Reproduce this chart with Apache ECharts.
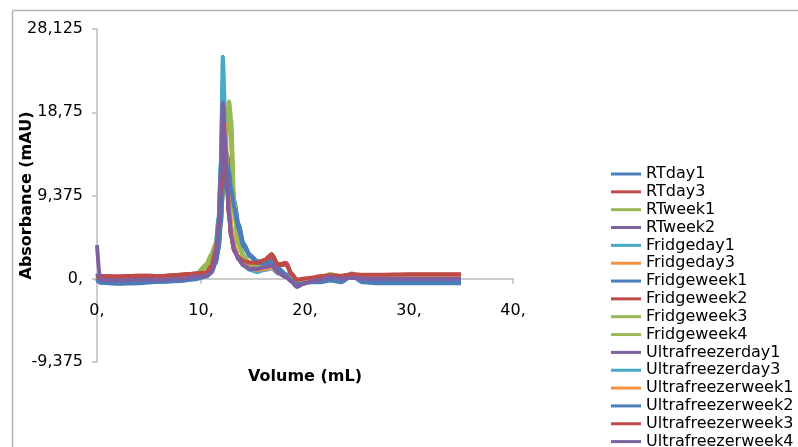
<!DOCTYPE html>
<html>
<head>
<meta charset="utf-8">
<script src="https://cdn.jsdelivr.net/npm/echarts@6/dist/echarts.min.js"></script>
<style>
  html, body { margin: 0; padding: 0; background: #fff; }
  #chart { width: 798px; height: 447px; }
</style>
</head>
<body>
<div id="chart"></div>
<script>
// elution volume (mL), shared by every run
const volume = [0, 0.3, 2, 4, 6, 8, 9.5, 10.5, 11, 11.4, 11.7, 11.9, 12.1, 12.3, 12.5, 12.7, 12.9, 13.2, 13.6, 14.1, 14.7, 15.4, 16.1, 16.8, 17.4, 18.2, 18.7, 19.2, 19.8, 20.6, 21.5, 22.4, 23.5, 24.5, 25.5, 27, 30, 35];

// absorbance (mAU) per run
const rtDay1 = [-0.2, -0.4, -0.5, -0.45, -0.3, -0.2, 0, 0.3, 0.8, 1.8, 3.5, 6.5, 10.5, 12.8, 13.4, 12.6, 10.8, 8.5, 6, 3.8, 2.6, 1.9, 1.8, 2, 1.1, 0.4, 0, -0.5, -0.4, -0.3, -0.3, -0.1, -0.3, 0.5, -0.3, -0.4, -0.4, -0.4];
const rtDay3 = [0.1, 0.3, 0.25, 0.35, 0.3, 0.45, 0.6, 0.7, 1.5, 3.2, 6, 10.5, 16.3, 15.2, 11, 7.5, 5, 3.3, 2.5, 2, 1.8, 1.8, 2.1, 2.8, 1.6, 1.8, 0.6, -0.2, -0.1, 0, 0.2, 0.4, 0.3, 0.5, 0.4, 0.4, 0.45, 0.45];
const rtWeek1 = [0, -0.2, -0.25, -0.15, -0.1, 0.1, 0.5, 1.5, 2.6, 3.8, 5, 6.5, 10, 14.5, 18.5, 19.5, 15.5, 7.5, 4, 2.5, 1.6, 1.3, 1.3, 1.5, 0.8, 0.3, -0.1, -0.5, -0.3, -0.1, 0.1, 0.5, 0.2, 0.3, 0.2, 0.2, 0.2, 0.2];
const rtWeek2 = [0.6, -0.1, -0.2, -0.1, -0.1, 0, 0.2, 0.3, 0.7, 2.2, 6.5, 12, 20.3, 16.5, 11.5, 7.5, 5, 3.3, 2.2, 1.5, 1.1, 1.1, 1.3, 1.5, 0.7, 0.2, -0.3, -0.9, -0.6, -0.3, -0.1, 0.2, 0, 0.1, 0, 0, 0, 0];
const fridgeDay1 = [0, -0.3, -0.35, -0.3, -0.2, -0.1, 0.1, 0.4, 1.2, 3.6, 7, 13, 25, 19, 12, 8, 5.5, 3.6, 2.4, 1.5, 1, 0.8, 1, 1.2, 0.7, 0.3, 0, -0.4, -0.3, -0.1, 0, 0.3, 0.1, 0.2, 0.1, 0.1, 0.1, 0.1];
const fridgeDay3 = [0, -0.2, -0.3, -0.25, -0.15, -0.05, 0.2, 0.4, 1.2, 3, 6, 11, 16.5, 18.2, 13.5, 9, 6, 3.8, 2.4, 1.6, 1.2, 1, 1.1, 1.3, 0.7, 0.3, 0, -0.3, -0.2, 0, 0.1, -0.1, -0.2, 0.3, 0, 0.1, 0.1, 0.1];
const fridgeWeek1 = [0, -0.35, -0.45, -0.4, -0.3, -0.15, 0.05, 0.35, 0.9, 2, 3.8, 7, 11, 13.5, 14, 13, 11, 8.8, 6.2, 4, 2.7, 2, 1.9, 2.1, 1.2, 0.5, 0.1, -0.4, -0.3, -0.2, -0.2, 0, -0.2, 0.6, -0.2, -0.3, -0.3, -0.3];
const fridgeWeek2 = [0, 0.25, 0.2, 0.3, 0.25, 0.4, 0.55, 0.65, 1.4, 3, 5.8, 10, 15.8, 15, 10.5, 7.2, 4.8, 3.2, 2.4, 1.9, 1.7, 1.7, 2, 2.6, 1.5, 1.6, 0.5, -0.2, -0.1, 0, 0.2, 0.35, 0.3, 0.45, 0.35, 0.35, 0.4, 0.4];
const fridgeWeek3 = [0, -0.25, -0.3, -0.2, -0.15, 0.05, 0.4, 1.3, 2.4, 3.5, 4.8, 6.2, 9.5, 14, 18, 19, 15, 7.2, 3.8, 2.4, 1.5, 1.2, 1.2, 1.4, 0.7, 0.2, -0.2, -0.5, -0.3, -0.1, 0.1, 0.4, 0.1, 0.2, 0.1, 0.1, 0.1, 0.1];
const fridgeWeek4 = [0, -0.2, -0.25, -0.15, -0.1, 0.15, 0.5, 1.6, 2.8, 4, 5.2, 6.8, 10, 14, 18, 20, 18, 8.5, 4.2, 2.6, 1.7, 1.3, 1.3, 1.5, 0.8, 0.3, -0.1, -0.4, -0.2, 0, 0.1, 0.5, 0.2, 0.3, 0.2, 0.2, 0.2, 0.2];
const ultraDay1 = [0, -0.15, -0.25, -0.15, -0.1, 0, 0.15, 0.3, 0.7, 2, 5, 9.5, 14, 14.9, 11.5, 7.8, 5.2, 3.4, 2.3, 1.6, 1.2, 1.1, 1.3, 1.5, 0.7, 0.2, -0.3, -0.8, -0.5, -0.3, -0.1, 0.2, 0, 0.1, 0, 0, 0, 0];
const ultraDay3 = [0, -0.25, -0.3, -0.25, -0.2, -0.1, 0.1, 0.4, 1.1, 3.4, 6.8, 12.5, 22, 17.5, 11.5, 7.6, 5.2, 3.4, 2.3, 1.5, 1, 0.8, 1, 1.2, 0.6, 0.3, 0, -0.4, -0.3, -0.1, 0, 0.3, 0.1, 0.2, 0.1, 0.1, 0.1, 0.1];
const ultraWeek1 = [0, -0.15, -0.25, -0.2, -0.1, 0, 0.25, 0.45, 1.2, 2.9, 5.8, 10.5, 16, 17.5, 13, 8.7, 5.8, 3.7, 2.4, 1.6, 1.2, 1, 1.1, 1.3, 0.7, 0.3, 0, -0.3, -0.2, 0, 0.1, -0.1, -0.2, 0.3, 0, 0.1, 0.1, 0.1];
const ultraWeek2 = [0, -0.45, -0.55, -0.5, -0.35, -0.25, -0.05, 0.25, 0.7, 1.7, 3.3, 6, 10, 12.3, 12.8, 12, 10.2, 8, 5.6, 3.6, 2.5, 1.8, 1.7, 1.9, 1, 0.3, -0.1, -0.6, -0.5, -0.4, -0.4, -0.2, -0.4, 0.4, -0.4, -0.5, -0.5, -0.5];
const ultraWeek3 = [0, 0.3, 0.25, 0.35, 0.3, 0.45, 0.6, 0.7, 1.4, 3.1, 5.8, 10, 15.3, 14.5, 10.2, 7, 4.7, 3.1, 2.4, 2, 1.8, 1.8, 2.1, 2.7, 1.6, 1.7, 0.6, -0.1, 0, 0.1, 0.3, 0.4, 0.35, 0.5, 0.45, 0.45, 0.5, 0.5];
const ultraWeek4 = [3.8, -0.1, -0.2, -0.1, -0.1, 0, 0.2, 0.3, 0.7, 2.1, 6.3, 11.8, 19.8, 16, 11.2, 7.3, 4.9, 3.3, 2.2, 1.5, 1.1, 1.1, 1.3, 1.5, 0.7, 0.2, -0.3, -0.9, -0.6, -0.3, -0.1, 0.2, 0, 0.1, 0, 0, 0, 0];

const runNames = ['RTday1', 'RTday3', 'RTweek1', 'RTweek2', 'Fridgeday1', 'Fridgeday3', 'Fridgeweek1', 'Fridgeweek2',
  'Fridgeweek3', 'Fridgeweek4', 'Ultrafreezerday1', 'Ultrafreezerday3', 'Ultrafreezerweek1', 'Ultrafreezerweek2',
  'Ultrafreezerweek3', 'Ultrafreezerweek4'];
const runValues = [rtDay1, rtDay3, rtWeek1, rtWeek2, fridgeDay1, fridgeDay3, fridgeWeek1, fridgeWeek2,
  fridgeWeek3, fridgeWeek4, ultraDay1, ultraDay3, ultraWeek1, ultraWeek2, ultraWeek3, ultraWeek4];

const blue = '#4A7EBB', red = '#BE4B48', green = '#98B954', purple = '#7D60A0', aqua = '#46AAC5', orange = '#F69240';
const runColors = [blue, red, green, purple, aqua, orange, blue, red, green, green, purple, aqua, orange, blue, red, purple];

const font = 'DejaVu Sans, Verdana, sans-serif';
const commaNum = (v) => {
  const s = String(v).replace('.', ',');
  return s.includes(',') ? s : s + ',';
};

// plot box: 333px tall, four y intervals -> zero line sits one interval above the bottom
const plotHeight = 447 - 29 - 85;

const chart = echarts.init(document.getElementById('chart'));
chart.setOption({
  animation: false,
  backgroundColor: '#fff',
  graphic: [
    { type: 'line', shape: { x1: 12.5, y1: 10.5, x2: 12.5, y2: 447 }, style: { stroke: '#B4B4B4', lineWidth: 1.5 } },
    { type: 'line', shape: { x1: 12.5, y1: 10.5, x2: 798, y2: 10.5 }, style: { stroke: '#B4B4B4', lineWidth: 1.5 } }
  ],
  grid: { left: 97, right: 285, top: 29, bottom: 85, outerBoundsMode: 'none' },
  legend: {
    orient: 'vertical',
    left: 611,
    top: 166,
    height: 300,
    padding: 0,
    icon: 'rect',
    itemWidth: 30,
    itemHeight: 3,
    itemGap: 1.84,
    textStyle: { fontFamily: font, fontSize: 16, color: '#000', lineHeight: 15 },
    data: runNames
  },
  xAxis: {
    type: 'value',
    min: 0,
    max: 40,
    interval: 10,
    offset: -plotHeight / 4,
    name: 'Volume (mL)',
    nameLocation: 'middle',
    nameGap: 90,
    nameTextStyle: { fontFamily: font, fontSize: 16, fontWeight: 'bold', color: '#000' },
    axisLine: { onZero: false, lineStyle: { color: '#BDBDBD', width: 1.5 } },
    axisTick: { show: true, length: 5, lineStyle: { color: '#BDBDBD', width: 1.5 } },
    axisLabel: { margin: 24, fontFamily: font, fontSize: 16, color: '#000', formatter: commaNum },
    splitLine: { show: false }
  },
  yAxis: {
    type: 'value',
    min: -9.375,
    max: 28.125,
    interval: 9.375,
    name: 'Absorbance (mAU)',
    nameLocation: 'middle',
    nameGap: 62,
    nameMoveOverlap: false,
    nameTextStyle: { fontFamily: font, fontSize: 16, fontWeight: 'bold', color: '#000' },
    axisLine: { show: true, lineStyle: { color: '#BDBDBD', width: 1.5 } },
    axisTick: { show: true, length: 5, lineStyle: { color: '#BDBDBD', width: 1.5 } },
    axisLabel: { margin: 14, fontFamily: font, fontSize: 16, color: '#000', formatter: commaNum },
    splitLine: { show: false }
  },
  series: runNames.map((name, k) => ({
    name,
    type: 'line',
    data: volume.map((x, i) => [x, runValues[k][i]]),
    showSymbol: false,
    smooth: 0.25,
    smoothMonotone: 'x',
    color: runColors[k],
    lineStyle: { width: 4 }
  }))
});
</script>
</body>
</html>
